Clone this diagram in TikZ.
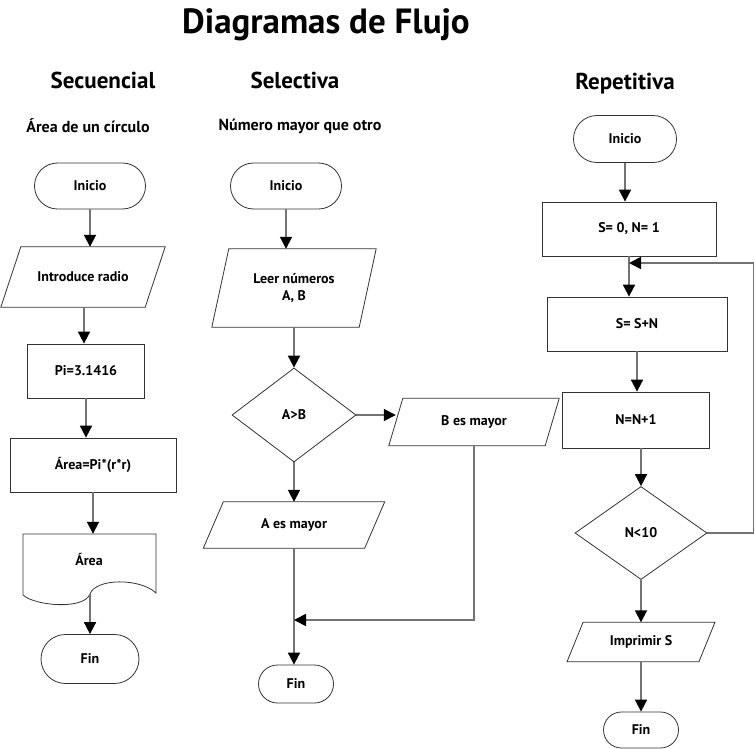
\documentclass[tikz,border=0pt]{standalone}
\usepackage{fontspec}
\setmainfont{PT Sans}
\usetikzlibrary{shapes.geometric, shapes.misc, arrows.meta}

\newcommand\nodefont{\fontsize{14}{17}\selectfont\bfseries}

\tikzset{
    outline/.style={draw=black!80, line width=0.8pt},
    term/.style={outline, rounded rectangle, inner sep=0pt, font=\nodefont},
    proc/.style={outline, rectangle, inner sep=0pt, font=\nodefont},
    io/.style={rectangle, inner sep=0pt, font=\nodefont},
    decision/.style={outline, diamond, inner sep=0pt, font=\nodefont},
    flow/.style={draw=black!55, line width=1.8pt, -{Triangle[black, length=12pt, width=12pt]}},
}

\begin{document}
\begin{tikzpicture}[x=1pt, y=-1pt]
    \useasboundingbox (0,0) rectangle (755,749);

    \node[font=\fontsize{35}{40}\selectfont\bfseries] (title) at (326,25) {Diagramas de Flujo};
    \node[font=\fontsize{23}{26}\selectfont\bfseries] (hsec) at (103,80) {Secuencial};
    \node[font=\fontsize{23}{26}\selectfont\bfseries] (hsel) at (295,80) {Selectiva};
    \node[font=\fontsize{23}{26}\selectfont\bfseries] (hrep) at (625,84) {Repetitiva};
    \node[font=\fontsize{16}{19}\selectfont\bfseries] (ssec) at (88,126) {Área de un círculo};
    \node[font=\fontsize{16}{19}\selectfont\bfseries] (ssel) at (300,126) {Número mayor que otro};

    % secuencial
    \node[term, minimum width=111pt, minimum height=46pt] (ini1) at (90,186) {Inicio};
    \node[io, minimum width=144pt, minimum height=60pt] (radio) at (83,277) {Introduce radio};
    \node[proc, minimum width=117pt, minimum height=54pt] (pival) at (86,371) {Pi=3.1416};
    \node[proc, minimum width=166pt, minimum height=54pt] (area) at (93,465) {Área=Pi*(r*r)};
    \node[font=\nodefont, minimum width=133pt, minimum height=52pt] (doc) at (89,560) {Área};
    \draw[outline] (23,595) -- (23,534) -- (156,534) -- (156,593)
        .. controls (140,578) and (96,578) .. (90,594)
        .. controls (84,610) and (35,606) .. (23,595);
    \coordinate (docout) at (90,594);
    \coordinate (radioout) at (84,307);
    \node[term, minimum width=98pt, minimum height=49pt] (fin1) at (90,659) {Fin};

    % selectiva
    \node[term, minimum width=111pt, minimum height=46pt] (ini2) at (286,186) {Inicio};
    \node[io, minimum width=147pt, minimum height=78pt, align=center] (leer) at (294,288) {Leer números\\A, B};
    \node[decision, minimum width=124pt, minimum height=94pt] (cmp) at (294,415) {A>B};
    \node[io, minimum width=156pt, minimum height=47pt] (bmay) at (474,422) {B es mayor};
    \node[io, minimum width=161pt, minimum height=46pt] (amay) at (294,525) {A es mayor};
    \node[term, minimum width=75pt, minimum height=38pt] (fin2) at (296,684) {Fin};
    \coordinate (join) at (294,620);

    % repetitiva
    \node[term, minimum width=103pt, minimum height=47pt] (ini3) at (625,139) {Inicio};
    \node[proc, minimum width=174pt, minimum height=54pt] (init) at (629,229) {S= 0, N= 1};
    \node[proc, minimum width=180pt, minimum height=54pt] (sum) at (637,324) {S= S+N};
    \node[proc, minimum width=147pt, minimum height=56pt] (inc) at (636,420) {N=N+1};
    \node[decision, minimum width=132pt, minimum height=93pt] (cond) at (641,533) {N<10};
    \node[io, minimum width=131.5pt, minimum height=39pt] (prn) at (641,642) {Imprimir S};
    \node[term, minimum width=75pt, minimum height=36pt] (fin3) at (641,730) {Fin};
    \coordinate (back) at (629,263);

    % parallelograms
    \foreach \n/\s in {radio/10pt, leer/8.5pt, bmay/7pt, amay/10pt, prn/8pt}
        \draw[outline] ([xshift=\s]\n.north west) -- ([xshift=\s]\n.north east)
            -- ([xshift=-\s]\n.south east) -- ([xshift=-\s]\n.south west) -- cycle;

    % arrows
    \draw[flow] (ini1.south) -- (ini1.south |- radio.north);
    \draw[flow] (radioout) -- (radioout |- pival.north);
    \draw[flow] (pival.south) -- (pival.south |- area.north);
    \draw[flow] (area.south) -- (area.south |- doc.north);
    \draw[flow] (docout) -- (fin1.north);

    \draw[flow] (ini2.south) -- (ini2.south |- leer.north);
    \draw[flow] (leer.south) -- (cmp.north);
    \draw[flow] (cmp.east) -- (cmp.east -| bmay.west);
    \draw[flow] (cmp.south) -- (amay.north);
    \draw[flow] (join |- amay.south) -- (join |- fin2.north);
    \draw[flow] (bmay.south) |- (join);

    \draw[flow] (ini3.south) -- (ini3.south |- init.north);
    \draw[flow] (init.south) -- (init.south |- sum.north);
    \draw[flow] (sum.south) -- (sum.south |- inc.north);
    \draw[flow] (cond.north |- inc.south) -- (cond.north);
    \draw[flow] (cond.south) -- (prn.north);
    \draw[flow] (prn.south) -- (prn.south |- fin3.north);
    \draw[flow] (cond.east) -- ++(46,0) |- (back);
\end{tikzpicture}
\end{document}
